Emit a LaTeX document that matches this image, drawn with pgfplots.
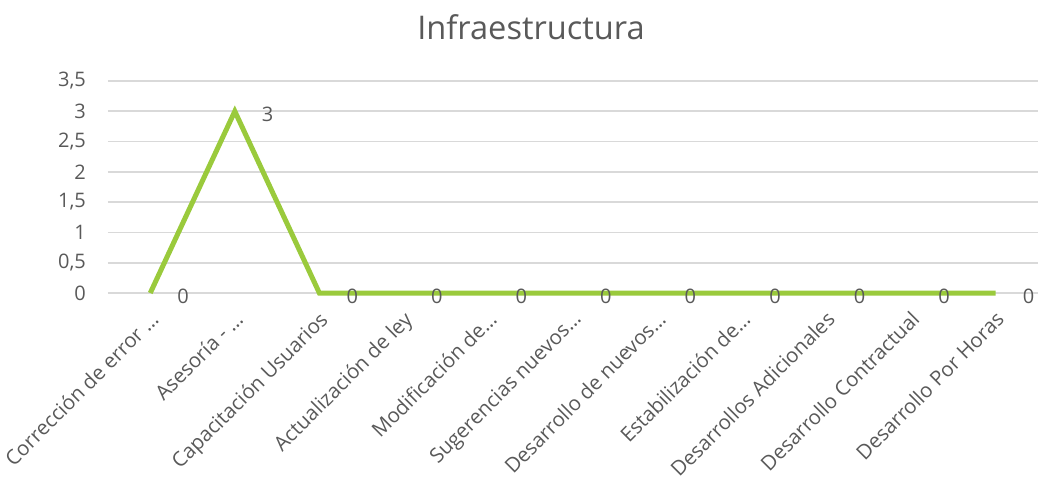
\documentclass[border=0pt]{standalone}
\usepackage{fontspec}
\setmainfont{Open Sans}
\usepackage{pgfplots}
\pgfplotsset{compat=1.18}
\definecolor{lineg}{RGB}{154,202,60}
\definecolor{txtg}{RGB}{89,89,89}
\definecolor{gridg}{RGB}{217,217,217}

\begin{document}
\begin{tikzpicture}
  \begin{axis}[
      at={(0,0)}, anchor=south west,
      scale only axis,
      width=465pt, height=106pt,
      xmin=-0.5, xmax=10.5,
      ymin=0, ymax=3.5,
      ytick={0,0.5,...,3.5},
      xtick={0,...,10},
      xticklabels={Corrección de error …, Asesoría - …, Capacitación Usuarios,
        Actualización de ley, Modificación de…, Sugerencias nuevos…,
        Desarrollo de nuevos…, Estabilización de…, Desarrollos Adicionales,
        Desarrollo Contractual, Desarrollo Por Horas},
      x tick label style={rotate=45, anchor=north east, font=\fontsize{10.2}{12}\selectfont,
        text=txtg, xshift=-3pt, yshift=-2pt},
      y tick label style={font=\fontsize{10}{12}\selectfont, text=txtg, xshift=-7.5pt},
      /pgf/number format/use comma,
      /pgf/number format/assume math mode=true,
      axis line style={draw=none},
      major tick length=0pt,
      ymajorgrids,
      grid style={gridg, line width=0.8pt},
      clip=false,
      nodes near coords,
      nodes near coords style={anchor=west, xshift=9pt, yshift=-1.5pt,
        font=\fontsize{10}{12}\selectfont, text=txtg},
    ]
    \addplot[lineg, line width=2.5pt, line join=miter] coordinates {
      (0,0) (1,3) (2,0) (3,0) (4,0) (5,0) (6,0) (7,0) (8,0) (9,0) (10,0)};
  \end{axis}
  \node[text=txtg, font=\fontsize{16.3}{18}\selectfont] at (211.5pt,133pt) {Infraestructura};
  \pgfresetboundingbox
  \path[use as bounding box] (-54pt,-94.5pt) rectangle (465pt,146.5pt);
\end{tikzpicture}
\end{document}
